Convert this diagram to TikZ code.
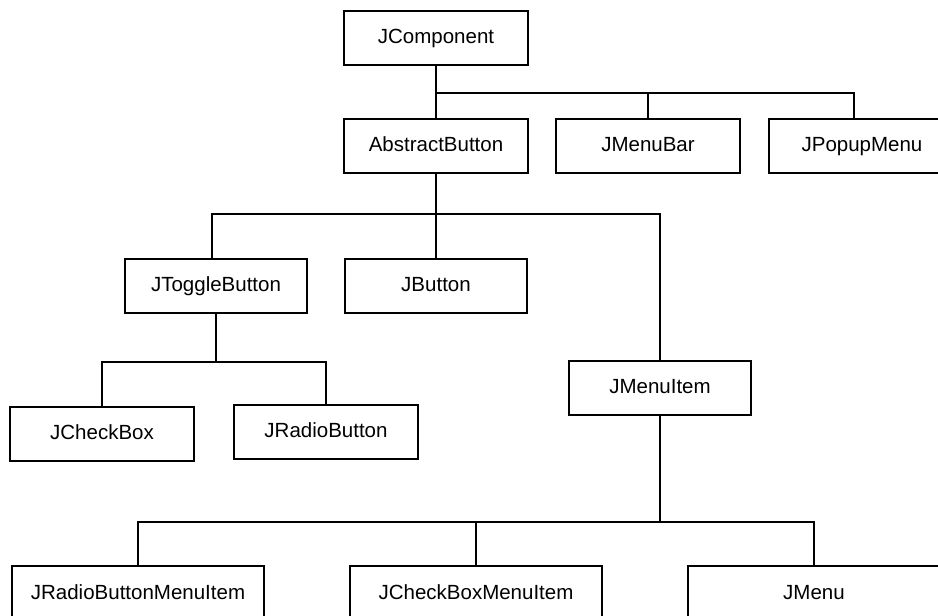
\documentclass[tikz,border=0pt]{standalone}
\usepackage{fontspec}
\setmainfont{Liberation Sans}
\begin{document}
\begin{tikzpicture}[x=1pt,y=-1pt,
  cls/.style={draw, line width=2pt, rectangle, inner sep=0pt,
    text height=14.5pt, text depth=4pt,
    minimum height=54pt, font=\fontsize{20.5}{24}\selectfont},
  narrow/.style={cls, minimum width=184pt},
  wide/.style={cls, minimum width=252pt, minimum height=56pt},
  link/.style={line width=2pt}]
  \clip (0,0) rectangle (938,616);

  % class boxes
  \node[narrow] (comp) at (436,38)  {JComponent};
  \node[narrow] (ab)   at (436,146) {AbstractButton};
  \node[narrow] (mb)   at (648,146) {JMenuBar};
  \node[narrow, minimum width=186pt] (pop) at (862,146) {JPopupMenu};
  \node[narrow, minimum width=182pt] (tog) at (216,286) {JToggleButton};
  \node[narrow, minimum width=182pt] (btn) at (436,286) {JButton};
  \node[narrow, minimum width=182pt] (mi)  at (660,388) {JMenuItem};
  \node[narrow] (cb)   at (102,434) {JCheckBox};
  \node[narrow] (rb)   at (326,432) {JRadioButton};
  \node[wide] (rbmi)   at (138,594) {JRadioButtonMenuItem};
  \node[wide] (cbmi)   at (476,594) {JCheckBoxMenuItem};
  \node[wide] (menu)   at (814,594) {JMenu};

  % inheritance tree
  \draw[link] (comp.south) -- (ab.north);
  \draw[link] (comp.south |- 0,93) -| ([xshift=-8pt]pop.north);
  \draw[link] (mb.north) -- (mb.north |- 0,93);

  \draw[link] (ab.south) -- (btn.north);
  \draw[link] ([xshift=-4pt]tog.north) |- (0,214 -| ab.south) -| (mi.north);

  \draw[link] (tog.south) -- (tog.south |- 0,362);
  \draw[link] (cb.north) |- (0,362 -| tog.south) -| (rb.north);

  \draw[link] (mi.south) -- (mi.south |- 0,522);
  \draw[link] (rbmi.north) |- (0,522 -| mi.south) -| (menu.north);
  \draw[link] (cbmi.north) -- (cbmi.north |- 0,522);
\end{tikzpicture}
\end{document}
